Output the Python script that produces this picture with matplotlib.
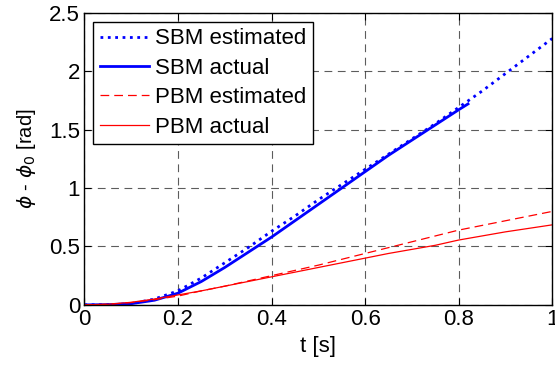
import matplotlib
matplotlib.use("Agg")
import matplotlib.pyplot as plt

plt.rcParams['font.family'] = ['Liberation Sans', 'DejaVu Sans']
plt.rcParams['mathtext.fontset'] = 'dejavusans'

# SBM estimated (dotted), full time range
t_sbm_est = [0.0, 0.05, 0.1, 0.15, 0.2, 0.25, 0.3, 0.35, 0.4, 0.45, 0.5,
             0.55, 0.6, 0.65, 0.7, 0.75, 0.8, 0.85, 0.9, 0.95, 1.0]
sbm_est = [0.0, 0.002, 0.01, 0.05, 0.12, 0.23, 0.36, 0.49, 0.63, 0.76, 0.90,
           1.03, 1.16, 1.29, 1.42, 1.55, 1.69, 1.83, 1.98, 2.13, 2.28]

# SBM actual (solid), ends around t = 0.82
t_sbm_act = [0.0, 0.05, 0.1, 0.15, 0.2, 0.25, 0.3, 0.35, 0.4, 0.45, 0.5,
             0.55, 0.6, 0.65, 0.7, 0.75, 0.8, 0.82]
sbm_act = [0.0, 0.002, 0.01, 0.04, 0.10, 0.20, 0.32, 0.45, 0.58, 0.72, 0.86,
           1.00, 1.14, 1.28, 1.41, 1.54, 1.67, 1.72]

# PBM estimated (dashed) and actual (solid)
t_pbm = [0.0, 0.05, 0.1, 0.15, 0.2, 0.25, 0.3, 0.35, 0.4, 0.45, 0.5,
         0.55, 0.6, 0.65, 0.7, 0.75, 0.8, 0.85, 0.9, 0.95, 1.0]
pbm_est = [0.0, 0.005, 0.02, 0.045, 0.075, 0.12, 0.16, 0.205, 0.25, 0.295, 0.34,
           0.39, 0.44, 0.49, 0.54, 0.59, 0.64, 0.68, 0.72, 0.76, 0.80]
pbm_act = [0.0, 0.005, 0.022, 0.05, 0.085, 0.12, 0.16, 0.20, 0.24, 0.28, 0.32,
           0.36, 0.40, 0.44, 0.475, 0.51, 0.555, 0.59, 0.625, 0.655, 0.685]

fig = plt.figure(figsize=(5.55, 3.66), dpi=100)
ax = fig.add_axes([0.152, 0.167, 0.843, 0.798])

ax.plot(t_sbm_est, sbm_est, color='blue', linestyle=':', linewidth=2, label='SBM estimated')
ax.plot(t_sbm_act, sbm_act, color='blue', linestyle='-', linewidth=2, label='SBM actual')
ax.plot(t_pbm, pbm_est, color='red', linestyle=(0, (7, 4)), linewidth=0.9, label='PBM estimated')
ax.plot(t_pbm, pbm_act, color='red', linestyle='-', linewidth=0.9, label='PBM actual')

ax.set_xlim(0, 1)
ax.set_ylim(0, 2.5)
ax.set_xticks([0, 0.2, 0.4, 0.6, 0.8, 1])
ax.set_xticklabels(['0', '0.2', '0.4', '0.6', '0.8', '1'])
ax.set_yticks([0, 0.5, 1, 1.5, 2, 2.5])
ax.set_yticklabels(['0', '0.5', '1', '1.5', '2', '2.5'])
ax.tick_params(direction='in', top=True, right=True, labelsize=16, length=5, pad=3)
ax.grid(True, color='#333333', linestyle=(0, (7, 5)), linewidth=0.8, alpha=0.8)
for s in ax.spines.values():
    s.set_linewidth(1.0)

ax.set_xlabel('t [s]', fontsize=16, labelpad=4)
ax.set_ylabel(r'$\phi$ - $\phi_0$ [rad]', fontsize=14.5, labelpad=8)

leg = ax.legend(loc='upper left', fontsize=16, handlelength=2.2, handletextpad=0.3,
                borderpad=0.3, labelspacing=0.38, fancybox=False, framealpha=1,
                borderaxespad=0.4)
leg.get_frame().set_edgecolor('black')
leg.get_frame().set_linewidth(1.0)

fig.savefig('out.png', dpi=100)
